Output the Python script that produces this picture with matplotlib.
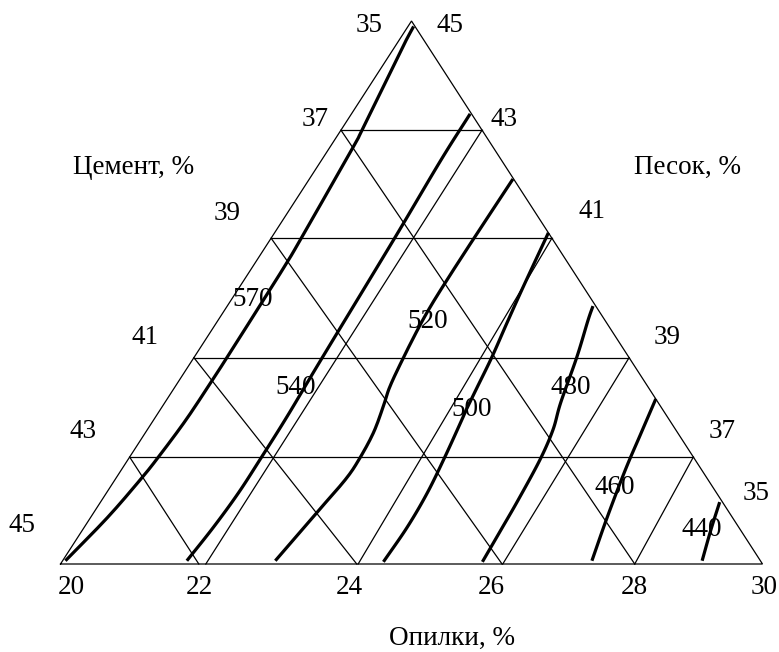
import numpy as np
import matplotlib
matplotlib.use("Agg")
import matplotlib.pyplot as plt

# ---------------- data ----------------
title_bottom = "Опилки, %"
title_left = "Цемент, %"
title_right = "Песок, %"

opilki_ticks = [20, 22, 24, 26, 28, 30]          # bottom side, left -> right
cement_ticks = [35, 37, 39, 41, 43, 45]          # left side, top -> bottom
sand_ticks = [45, 43, 41, 39, 37, 35]            # right side, top -> bottom

levels = [570, 540, 520, 500, 480, 460, 440]

# iso-lines given as (opilki %, sand %); cement = 100 - opilki - sand
iso570_opilki = [20.04, 20.24, 20.36, 20.41, 20.46, 20.47, 20.47, 20.46, 20.45, 20.43, 20.33, 20.30, 20.12, 20.08]
iso570_sand = [35.06, 35.85, 36.55, 36.97, 37.65, 38.35, 38.78, 39.86, 40.54, 40.99, 42.68, 42.99, 44.47, 44.90]

iso540_opilki = [21.77, 21.84, 21.88, 21.88, 21.87, 21.83, 21.76, 21.70, 21.69]
iso540_sand = [35.06, 35.68, 36.31, 36.95, 37.71, 38.76, 40.97, 42.44, 43.29]

iso520_opilki = [23.03, 23.18, 23.28, 23.29, 23.25, 23.15, 23.06, 22.99, 22.93, 22.90, 22.89, 22.89, 22.90]
iso520_sand = [35.06, 35.96, 36.55, 36.92, 37.41, 37.89, 38.26, 38.76, 39.31, 39.73, 40.23, 40.97, 42.09]

iso500_opilki = [24.58, 24.60, 24.57, 24.49, 24.39, 24.36, 24.31, 24.24, 24.14, 24.04, 23.90]
iso500_sand = [35.04, 35.68, 36.31, 36.97, 37.65, 37.84, 38.24, 38.81, 39.44, 40.10, 41.10]

iso480_opilki = [25.99, 25.96, 25.93, 25.87, 25.78, 25.64, 25.45, 25.27, 25.21]
iso480_sand = [35.04, 35.63, 36.18, 36.92, 37.47, 37.97, 38.81, 39.49, 39.75]

iso460_opilki = [27.54, 27.36, 27.18, 27.07, 26.96]
iso460_sand = [35.06, 35.85, 36.73, 37.38, 38.04]

iso440_opilki = [29.11, 28.95, 28.82]
iso440_sand = [35.06, 35.63, 36.14]

iso_lines = [
    (iso570_opilki, iso570_sand),
    (iso540_opilki, iso540_sand),
    (iso520_opilki, iso520_sand),
    (iso500_opilki, iso500_sand),
    (iso480_opilki, iso480_sand),
    (iso460_opilki, iso460_sand),
    (iso440_opilki, iso440_sand),
]

# ---------------- layout ----------------
FIG_W, FIG_H = 779, 652
X0, Y0, W, H = 60.5, 564.0, 702.0, 543.0   # triangle base-left corner, base width, height (px)

# hand drawn grid: fractional positions of the grid lines on the triangle sides
h_fracs = [0.197, 0.380, 0.600, 0.799]            # sand 37, 39, 41, 43 (height)
base_fracs_cem = [0.197, 0.422, 0.629, 0.818]     # lines parallel to right side
base_fracs_opi = [0.207, 0.424, 0.630, 0.818]     # lines parallel to left side

left_tick_pos = [(369, 26), (315, 120), (227, 213), (145, 338), (83, 432), (22, 526)]
right_tick_pos = [(450, 26), (504, 120), (592, 211), (667, 338), (722, 432), (756, 494)]
bottom_tick_x = [71, 199, 349, 491, 634, 764]
bottom_tick_y = 587
level_label_pos = [(253, 300), (296, 388), (428, 322), (472, 410), (571, 388), (615, 487), (702, 530)]

FS = 19.5
THIN = 0.9
THICK = 2.3


def to_xy(opilki, sand):
    o = np.asarray(opilki, float)
    s = np.asarray(sand, float)
    x = X0 + (o - 20.0) / 10.0 * W + (s - 35.0) / 10.0 * W / 2.0
    y = Y0 - (s - 35.0) / 10.0 * H
    return x, y


def smooth(x, y, n=12):
    """Catmull-Rom spline through the points."""
    P = np.column_stack([x, y])
    if len(P) < 3:
        return x, y
    P = np.vstack([2 * P[0] - P[1], P, 2 * P[-1] - P[-2]])
    out = []
    t = np.linspace(0, 1, n, endpoint=False)[:, None]
    for i in range(1, len(P) - 2):
        p0, p1, p2, p3 = P[i - 1], P[i], P[i + 1], P[i + 2]
        seg = 0.5 * ((2 * p1) + (-p0 + p2) * t + (2 * p0 - 5 * p1 + 4 * p2 - p3) * t ** 2
                     + (-p0 + 3 * p1 - 3 * p2 + p3) * t ** 3)
        out.append(seg)
    out.append(P[-2][None, :])
    out = np.vstack(out)
    return out[:, 0], out[:, 1]


plt.rcParams['font.family'] = ['Liberation Serif', 'DejaVu Serif']
fig = plt.figure(figsize=(FIG_W / 100, FIG_H / 100), dpi=100)
ax = fig.add_axes([0, 0, 1, 1])
ax.set_xlim(0, FIG_W)
ax.set_ylim(FIG_H, 0)
ax.axis('off')

# triangle outline
tx, ty = to_xy([20, 30, 20, 20], [35, 35, 45, 35])
ax.plot(tx, ty, color='black', lw=THIN, solid_joinstyle='miter')


def left_pt(h):
    return X0 + h * W / 2.0, Y0 - h * H


def right_pt(h):
    return X0 + W - h * W / 2.0, Y0 - h * H


# horizontal grid lines
for h in h_fracs:
    (x1, y1), (x2, y2) = left_pt(h), right_pt(h)
    ax.plot([x1, x2], [y1, y2], color='black', lw=THIN)

# lines parallel to right side: bottom -> left side
for i, b in enumerate(base_fracs_cem):
    x1, y1 = left_pt(h_fracs[i])
    ax.plot([X0 + b * W, x1], [Y0, y1], color='black', lw=THIN)

# lines parallel to left side: bottom -> right side
for i, b in enumerate(base_fracs_opi):
    x2, y2 = right_pt(h_fracs[len(h_fracs) - 1 - i])
    ax.plot([X0 + b * W, x2], [Y0, y2], color='black', lw=THIN)

# iso-lines
for (o, s) in iso_lines:
    x, y = to_xy(o, s)
    xs, ys = smooth(x, y)
    ax.plot(xs, ys, color='black', lw=THICK, solid_capstyle='butt', solid_joinstyle='round', zorder=3)

# level labels
for lev, (lx, ly) in zip(levels, level_label_pos):
    ax.text(lx, ly, str(lev), fontsize=FS, ha='center', va='center', zorder=4)

# tick labels
for t, (lx, ly) in zip(cement_ticks, left_tick_pos):
    ax.text(lx, ly, str(t), fontsize=FS, ha='center', va='center')
for t, (lx, ly) in zip(sand_ticks, right_tick_pos):
    ax.text(lx, ly, str(t), fontsize=FS, ha='center', va='center')
for t, lx in zip(opilki_ticks, bottom_tick_x):
    ax.text(lx, bottom_tick_y, str(t), fontsize=FS, ha='center', va='center')

# axis titles
ax.text(134, 167, title_left, fontsize=FS, ha='center', va='center')
ax.text(688, 167, title_right, fontsize=FS, ha='center', va='center')
ax.text(452, 638, title_bottom, fontsize=FS, ha='center', va='center')

fig.savefig("out.png", dpi=100, facecolor='white')
